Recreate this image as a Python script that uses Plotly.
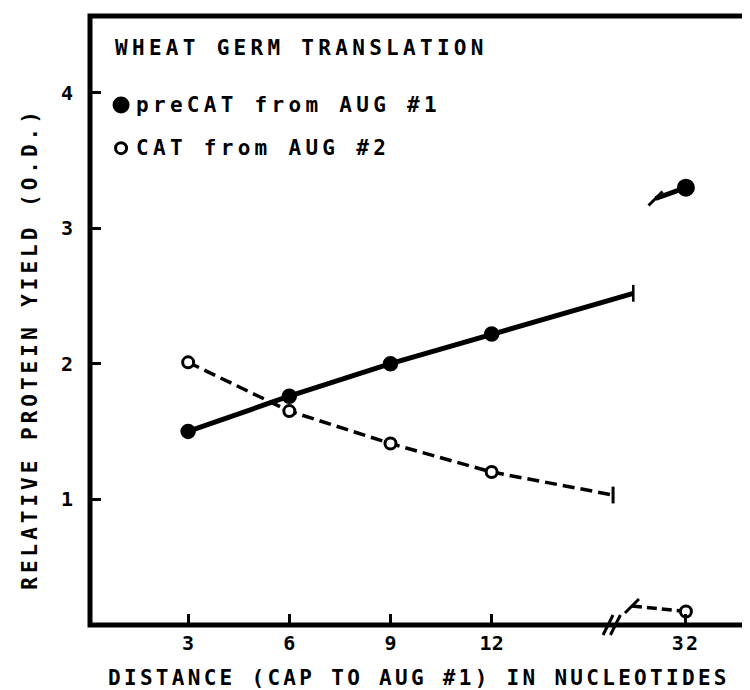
import plotly.graph_objects as go

# ---------------- data ----------------
distance = [3, 6, 9, 12]                 # nucleotides, left of the axis break
precat_yield = [1.50, 1.76, 2.00, 2.22]  # preCAT from AUG #1 (filled)
cat_yield = [2.01, 1.65, 1.41, 1.20]     # CAT from AUG #2 (open)

# trend lines drawn on to the axis break
precat_break_x, precat_break_y = 16.2, 2.52
cat_break_x, cat_break_y = 15.6, 1.03

# point after the axis break
far_distance = 32
precat_far = 3.30
cat_far = 0.17
precat_far_start_x, precat_far_start_y = 31.1, 3.22
cat_far_start_x, cat_far_start_y = 30.4, 0.21

x_ticks = [3, 6, 9, 12]
x2_ticks = [32]
y_ticks = [1, 2, 3, 4]
axis_break_at = [15.45, 15.67]

title_text = "WHEAT GERM TRANSLATION"
legend_labels = ["preCAT from AUG #1", "CAT from AUG #2"]
x_title = "DISTANCE (CAP TO AUG #1) IN NUCLEOTIDES"
y_title = "RELATIVE PROTEIN YIELD (O.D.)"

# ---------------- styling ----------------
FONT = "DejaVu Sans Mono"
INK = "black"


def spaced(t, px):
    return f'<span style="letter-spacing:{px}px">{t}</span>'


fig = go.Figure()

# preCAT solid line with filled dots and an end serif at the break
fig.add_trace(go.Scatter(
    x=distance + [precat_break_x], y=precat_yield + [precat_break_y],
    mode="lines+markers",
    line=dict(color=INK, width=5),
    marker=dict(symbol=["circle"] * len(distance) + ["line-ns"],
                size=[13] * len(distance) + [12], opacity=1,
                color=INK, line=dict(color=INK, width=2.5)),
    showlegend=False, hoverinfo="skip"))

# CAT dashed line with open circles
fig.add_trace(go.Scatter(
    x=distance + [cat_break_x], y=cat_yield + [cat_break_y],
    mode="lines+markers",
    line=dict(color=INK, width=3.5, dash="12px,6px"),
    marker=dict(symbol=["circle"] * len(distance) + ["line-ns"],
                size=[11] * len(distance) + [12], opacity=1,
                color=["white"] * len(distance) + [INK],
                line=dict(color=INK, width=3)),
    showlegend=False, hoverinfo="skip"))

# after-break segments on the second (offset) x axis
fig.add_trace(go.Scatter(
    x=[precat_far_start_x, far_distance], y=[precat_far_start_y, precat_far],
    xaxis="x2", mode="lines+markers",
    line=dict(color=INK, width=5),
    marker=dict(symbol=["line-ne", "circle"], size=[14, 15], color=INK,
                opacity=1, line=dict(color=INK, width=3)),
    showlegend=False, hoverinfo="skip"))
fig.add_trace(go.Scatter(
    x=[cat_far_start_x, far_distance], y=[cat_far_start_y, cat_far],
    xaxis="x2", mode="lines+markers",
    line=dict(color=INK, width=3.5, dash="10px,5px"),
    marker=dict(symbol=["line-ne", "circle"], size=[14, 11], opacity=1,
                color=[INK, "white"], line=dict(color=INK, width=3)),
    showlegend=False, hoverinfo="skip"))

tickfont = dict(family=FONT, size=20, color=INK, weight="bold")
common = dict(showgrid=False, zeroline=False, showline=False,
              ticks="inside", ticklen=11, tickwidth=2.5, tickcolor=INK,
              tickfont=tickfont, fixedrange=True)

fig.update_layout(
    width=750, height=690,
    margin=dict(l=82, r=7, t=8, b=73),
    paper_bgcolor="white", plot_bgcolor="white",
    font=dict(family=FONT, color=INK),
    xaxis=dict(range=[0.09, 19.69], tickvals=x_ticks,
               ticktext=[str(v) for v in x_ticks],
               ticklabelstandoff=4, **common),
    xaxis2=dict(range=[14.33, 33.93], overlaying="x", anchor="y", side="bottom",
                tickvals=x2_ticks, ticktext=[spaced(str(v), 2) for v in x2_ticks],
                ticklabelstandoff=4, **common),
    yaxis=dict(range=[0.07, 4.568], tickvals=y_ticks,
               ticktext=[str(v) for v in y_ticks],
               ticklabelstandoff=16, **common),
)

# frame
fig.add_shape(type="rect", xref="paper", yref="paper", x0=0, x1=1, y0=0, y1=1,
              line=dict(color=INK, width=5), layer="above")

# axis-break slashes
for bx in axis_break_at:
    fig.add_shape(type="line", xref="x", yref="paper",
                  xsizemode="pixel", ysizemode="pixel",
                  xanchor=bx, yanchor=0, x0=-5, x1=5, y0=-10, y1=10,
                  line=dict(color=INK, width=3))

# legend block
legend_font = dict(family=FONT, size=21, color=INK, weight="bold")
fig.add_annotation(xref="paper", yref="paper", x=0.035, y=0.947,
                   xanchor="left", yanchor="middle", showarrow=False,
                   text=spaced(title_text, 4.3), font=legend_font)
legend_rows = [(0.854, INK, 7), (0.783, "white", 5.5)]
for (ly, fill, r), label in zip(legend_rows, legend_labels):
    fig.add_shape(type="circle", xref="paper", yref="paper",
                  xsizemode="pixel", ysizemode="pixel",
                  xanchor=0.047, yanchor=ly, x0=-r, x1=r, y0=-r, y1=r,
                  fillcolor=fill, line=dict(color=INK, width=3))
    fig.add_annotation(xref="paper", yref="paper", x=0.066, y=ly,
                       xanchor="left", yanchor="middle", showarrow=False,
                       text=spaced(label, 4.3), font=legend_font)

# axis titles
title_font = dict(family=FONT, size=21, color=INK, weight="bold")
fig.add_annotation(xref="paper", yref="paper", x=0.498, y=-0.087,
                   xanchor="center", yanchor="middle", showarrow=False,
                   text=spaced(x_title, 3.3), font=title_font)
fig.add_annotation(xref="paper", yref="paper", x=-0.091, y=0.455,
                   xanchor="center", yanchor="middle", showarrow=False,
                   textangle=-90, text=spaced(y_title, 4), font=title_font)

fig.write_html("out.html")
